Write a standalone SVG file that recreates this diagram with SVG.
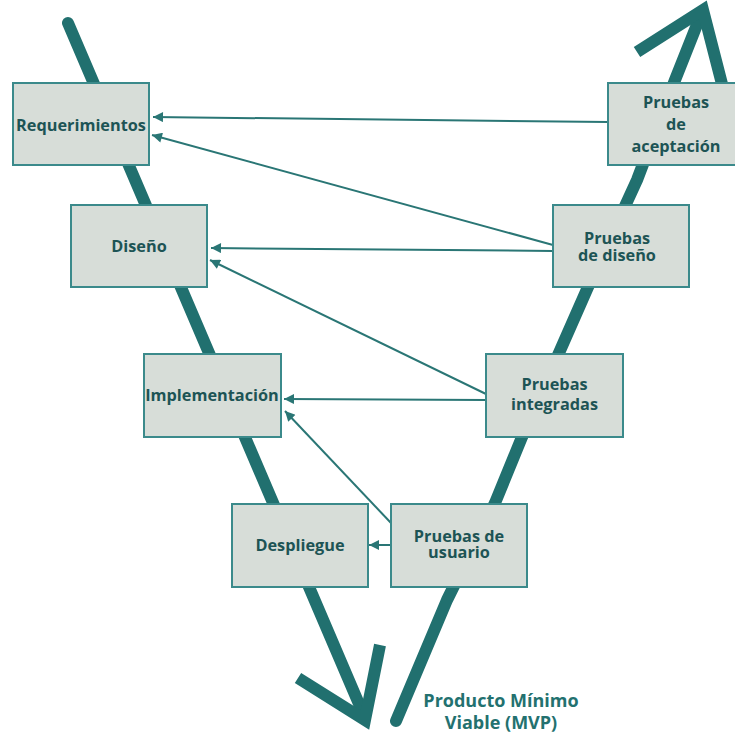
<svg xmlns="http://www.w3.org/2000/svg" width="735" height="737" viewBox="0 0 735 737">
  <style>
    .v { fill: none; stroke: #21706f; stroke-width: 12; stroke-linecap: round; stroke-linejoin: round; }
    .wing { fill: none; stroke: #21706f; stroke-width: 12; stroke-linecap: butt; stroke-linejoin: miter; stroke-miterlimit: 10; }
    .box { fill: #d7ddd8; stroke: #3b8a8b; stroke-width: 2; }
    .lbl { font-family: "Open Sans", "Liberation Sans", sans-serif; font-weight: 700; font-size: 16.3px; fill: #1d5455; text-anchor: middle; }
    .mvp { font-family: "Open Sans", "Liberation Sans", sans-serif; font-weight: 700; font-size: 18px; fill: #23716f; text-anchor: middle; }
    .c { fill: none; stroke: #2a7675; stroke-width: 2; }
  </style>
  <defs>
    <marker id="ah" viewBox="0 0 10 10" refX="10" refY="5" markerWidth="11" markerHeight="10" markerUnits="userSpaceOnUse" orient="auto">
      <path d="M0,0 L10,5 L0,10 z" fill="#2a7675"/>
    </marker>
  </defs>

  <g id="v-shape">
    <path class="v" d="M68,23 L365,718"/>
    <path class="wing" d="M298,678 L365,720 L380,645"/>
    <path class="v" d="M396,721 L447,600 L495,503 L522,437 L588,287 L637,180 L675,80 L702,12"/>
    <path class="wing" d="M637,52 L703,10 L722,84"/>
  </g>

  <g id="connectors">
    <line class="c" x1="608" y1="122" x2="153" y2="117" marker-end="url(#ah)"/>
    <line class="c" x1="553" y1="245" x2="152" y2="135" marker-end="url(#ah)"/>
    <line class="c" x1="553" y1="251" x2="211" y2="248" marker-end="url(#ah)"/>
    <line class="c" x1="486" y1="394" x2="210" y2="260" marker-end="url(#ah)"/>
    <line class="c" x1="486" y1="400" x2="284" y2="399" marker-end="url(#ah)"/>
    <line class="c" x1="391" y1="523" x2="285" y2="411" marker-end="url(#ah)"/>
    <line class="c" x1="391" y1="545" x2="369" y2="545" marker-end="url(#ah)"/>
  </g>

  <g id="requerimientos">
    <rect class="box" x="13" y="83" width="136" height="82"/>
    <text class="lbl" x="81" y="131">Requerimientos</text>
  </g>
  <g id="diseno">
    <rect class="box" x="71" y="205" width="136" height="82"/>
    <text class="lbl" x="139" y="252">Diseño</text>
  </g>
  <g id="implementacion">
    <rect class="box" x="144" y="354" width="137" height="83"/>
    <text class="lbl" x="212" y="401">Implementación</text>
  </g>
  <g id="despliegue">
    <rect class="box" x="232" y="504" width="136" height="83"/>
    <text class="lbl" x="300" y="551">Despliegue</text>
  </g>
  <g id="pruebas-usuario">
    <rect class="box" x="391" y="504" width="136" height="83"/>
    <text class="lbl" x="459" y="542">Pruebas de</text>
    <text class="lbl" x="459" y="558">usuario</text>
  </g>
  <g id="pruebas-integradas">
    <rect class="box" x="486" y="354" width="137" height="83"/>
    <text class="lbl" x="554.5" y="390">Pruebas</text>
    <text class="lbl" x="554.5" y="410">integradas</text>
  </g>
  <g id="pruebas-diseno">
    <rect class="box" x="553" y="205" width="136" height="82"/>
    <text class="lbl" x="617" y="244">Pruebas</text>
    <text class="lbl" x="617" y="261">de diseño</text>
  </g>
  <g id="pruebas-aceptacion">
    <rect class="box" x="608" y="83" width="136" height="82"/>
    <text class="lbl" x="676" y="108">Pruebas</text>
    <text class="lbl" x="676" y="130">de</text>
    <text class="lbl" x="676" y="152">aceptación</text>
  </g>

  <g id="mvp-label">
    <text class="mvp" x="501" y="707">Producto Mínimo</text>
    <text class="mvp" x="501" y="729">Viable (MVP)</text>
  </g>
</svg>
